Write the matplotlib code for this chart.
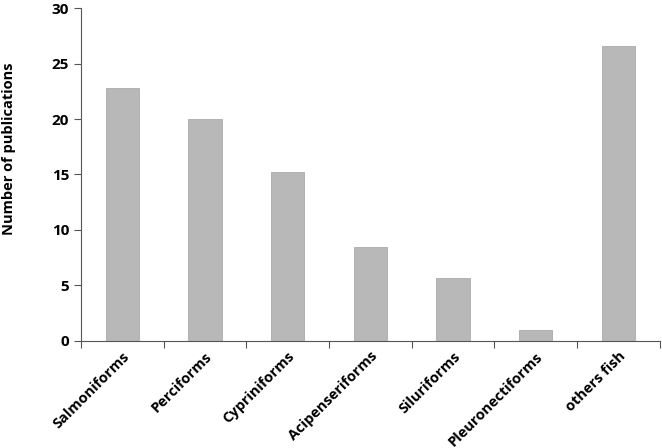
import matplotlib
matplotlib.use("Agg")
from matplotlib import pyplot as plt
import numpy as np

categories = ["Salmoniforms", "Perciforms", "Cypriniforms", "Acipenseriforms",
              "Siluriforms", "Pleuronectiforms", "others fish"]
publications = [22.8, 20.0, 15.2, 8.5, 5.7, 1.0, 26.6]
yticks = [0, 5, 10, 15, 20, 25, 30]

plt.rcParams['font.family'] = ['Open Sans', 'DejaVu Sans']

fig = plt.figure(figsize=(6.62, 4.48), dpi=100)
ax = fig.add_axes([0.1224, 0.239, 0.874, 0.743])

x = np.arange(len(categories))
ax.bar(x, publications, width=0.4, color="#b8b8b8", edgecolor="#aaaaaa", linewidth=0.6, zorder=2)

ax.set_xlim(-0.5, len(categories) - 0.5)
ax.set_ylim(0, 30)
ax.set_yticks(yticks)
ax.set_yticklabels([str(v) for v in yticks], fontsize=11, fontweight="bold")

# category labels between boundary ticks, like a spreadsheet chart
ax.set_xticks(np.arange(len(categories) + 1) - 0.5)
ax.set_xticklabels([])
ax.set_xticks(x, minor=True)
ax.set_xticklabels(categories, minor=True, rotation=45, ha="right",
                   rotation_mode="anchor", fontsize=10.5, fontweight="bold")
ax.tick_params(axis="x", which="minor", length=0, pad=6)
ax.tick_params(axis="x", which="major", direction="out", length=5, color="#555555")
ax.tick_params(axis="y", direction="out", length=5, color="#555555")

ax.spines["top"].set_visible(False)
ax.spines["right"].set_visible(False)
ax.spines["left"].set_color("#555555")
ax.spines["bottom"].set_color("#555555")

fig.text(0.014, 0.667, "Number of publications", rotation=90, ha="center", va="center",
         fontsize=10.5, fontweight="bold")

plt.savefig("out.png", dpi=100)
